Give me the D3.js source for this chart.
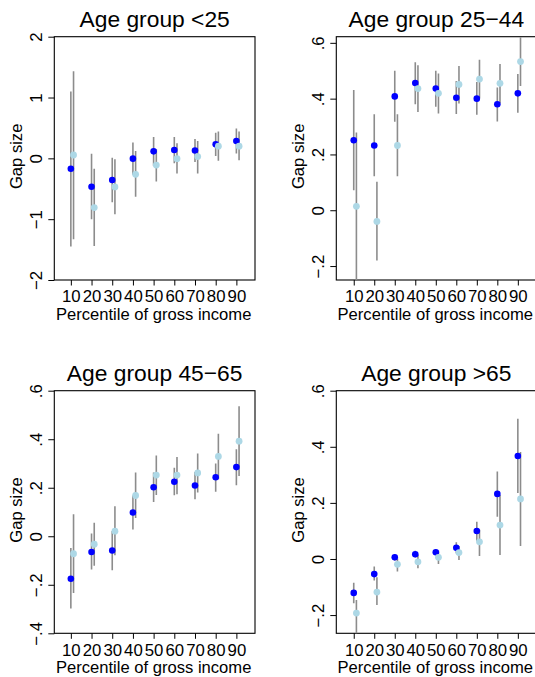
<!DOCTYPE html>
<html><head><meta charset="utf-8">
<script src="https://cdn.jsdelivr.net/npm/d3@7"></script>
<style>
body{margin:0;background:#fff}
svg{display:block}
text{font-family:"Liberation Sans",Arial,Helvetica,sans-serif;fill:#000}
</style>
</head><body>
<svg id="chart" width="535" height="677"></svg>
<script>
// ---- data ----
const percentiles = [10, 20, 30, 40, 50, 60, 70, 80, 90];
const panelTitles = ["Age group <25", "Age group 25\u221244", "Age group 45\u221265", "Age group >65"];
const xTickValues = [10, 20, 30, 40, 50, 60, 70, 80, 90];
const yTicks_lt25 = [-2, -1, 0, 1, 2];
const yTicks_25_44 = [-0.2, 0, 0.2, 0.4, 0.6];
const yTicks_45_65 = [-0.4, -0.2, 0, 0.2, 0.4, 0.6];
const yTicks_gt65 = [-0.2, 0, 0.2, 0.4, 0.6];
const xTitle = "Percentile of gross income";
const yTitle = "Gap size";

// Age <25
const blueEst_lt25  = [-0.17, -0.466, -0.357, -0.005, 0.115, 0.137, 0.13, 0.23, 0.285];
const blueLo_lt25   = [-1.45, -1.0, -0.72, -0.27, -0.12, -0.08, -0.06, 0.04, 0.08];
const blueHi_lt25   = [1.1, 0.077, 0.01, 0.26, 0.35, 0.35, 0.32, 0.42, 0.49];
const lightEst_lt25 = [0.055, -0.81, -0.47, -0.263, -0.11, -0.005, 0.03, 0.2, 0.2];
const lightLo_lt25  = [-1.33, -1.44, -0.92, -0.63, -0.38, -0.25, -0.25, -0.04, -0.03];
const lightHi_lt25  = [1.43, -0.17, -0.016, 0.12, 0.15, 0.25, 0.285, 0.44, 0.44];

// Age 25-44
const blueEst_25_44  = [0.251, 0.232, 0.408, 0.456, 0.436, 0.403, 0.4, 0.38, 0.419];
const blueLo_25_44   = [0.072, 0.122, 0.317, 0.38, 0.371, 0.345, 0.342, 0.318, 0.349];
const blueHi_25_44   = [0.431, 0.344, 0.5, 0.53, 0.5, 0.463, 0.46, 0.44, 0.488];
const lightEst_25_44 = [0.014, -0.04, 0.232, 0.436, 0.419, 0.451, 0.47, 0.455, 0.533];
const lightLo_25_44  = [-0.26, -0.18, 0.122, 0.352, 0.347, 0.383, 0.401, 0.383, 0.445];
const lightHi_25_44  = [0.279, 0.102, 0.344, 0.52, 0.49, 0.517, 0.539, 0.524, 0.62];

// Age 45-65
const blueEst_45_65  = [-0.175, -0.065, -0.059, 0.098, 0.202, 0.225, 0.209, 0.243, 0.285];
const blueLo_45_65   = [-0.298, -0.137, -0.14, 0.028, 0.141, 0.169, 0.153, 0.183, 0.21];
const blueHi_45_65   = [-0.048, 0.011, 0.022, 0.168, 0.263, 0.282, 0.265, 0.3, 0.359];
const lightEst_45_65 = [-0.072, -0.033, 0.021, 0.168, 0.252, 0.252, 0.261, 0.329, 0.392];
const lightLo_45_65  = [-0.234, -0.122, -0.078, 0.075, 0.17, 0.173, 0.18, 0.235, 0.248];
const lightHi_45_65  = [0.091, 0.056, 0.124, 0.263, 0.333, 0.327, 0.341, 0.423, 0.536];

// Age >65
const blueEst_gt65  = [-0.121, -0.054, 0.006, 0.017, 0.024, 0.04, 0.1, 0.232, 0.367];
const blueLo_gt65   = [-0.158, -0.077, -0.006, 0.005, 0.012, 0.02, 0.065, 0.151, 0.235];
const blueHi_gt65   = [-0.085, -0.027, 0.018, 0.029, 0.035, 0.06, 0.133, 0.312, 0.5];
const lightEst_gt65 = [-0.193, -0.118, -0.019, -0.01, 0.006, 0.023, 0.061, 0.121, 0.214];
const lightLo_gt65  = [-0.27, -0.164, -0.045, -0.033, -0.018, -0.004, 0.011, 0.014, 0.046];
const lightHi_gt65  = [-0.146, -0.065, 0.002, 0.014, 0.03, 0.046, 0.104, 0.228, 0.381];

// ---- layout ----
const panels = [
  {title: panelTitles[0], left: 54.3, right: 255, top: 36.7, bottom: 280, xDom: [2, 99], yDom: [-2, 2], yTicks: yTicks_lt25,
   bE: blueEst_lt25, bL: blueLo_lt25, bH: blueHi_lt25, lE: lightEst_lt25, lL: lightLo_lt25, lH: lightHi_lt25},
  {title: panelTitles[1], left: 336.3, right: 536.3, top: 36.7, bottom: 280, xDom: [1.5, 99], yDom: [-0.25, 0.622], yTicks: yTicks_25_44,
   bE: blueEst_25_44, bL: blueLo_25_44, bH: blueHi_25_44, lE: lightEst_25_44, lL: lightLo_25_44, lH: lightHi_25_44},
  {title: panelTitles[2], left: 54.3, right: 255, top: 390.7, bottom: 633.3, xDom: [2, 99], yDom: [-0.4, 0.6], yTicks: yTicks_45_65,
   bE: blueEst_45_65, bL: blueLo_45_65, bH: blueHi_45_65, lE: lightEst_45_65, lL: lightLo_45_65, lH: lightHi_45_65},
  {title: panelTitles[3], left: 336.3, right: 536.3, top: 390.7, bottom: 633.3, xDom: [1.5, 99], yDom: [-0.265, 0.6], yTicks: yTicks_gt65,
   bE: blueEst_gt65, bL: blueLo_gt65, bH: blueHi_gt65, lE: lightEst_gt65, lL: lightLo_gt65, lH: lightHi_gt65}
];

const BLUE = "#0000ff", LIGHT = "#add8e6", CI = "#8c8c8c";
const LIGHT_OFFSET = 1.3;
const FONT = '"Liberation Sans",Arial,Helvetica,sans-serif';

function fmt(v) {
  if (Math.abs(v) < 1e-9) return "0";
  let s = String(+v.toFixed(2));
  s = s.replace(/^(-?)0\./, "$1.");
  return s.replace("-", "\u2212");
}

const svg = d3.select("#chart");

panels.forEach((p, i) => {
  const x = d3.scaleLinear().domain(p.xDom).range([p.left, p.right]);
  const y = d3.scaleLinear().domain(p.yDom).range([p.bottom, p.top]);
  const g = svg.append("g");

  const clipId = "clip" + i;
  svg.append("clipPath").attr("id", clipId).append("rect")
    .attr("x", p.left).attr("y", p.top).attr("width", p.right - p.left).attr("height", p.bottom - p.top);

  // title
  g.append("text").attr("x", (p.left + p.right) / 2).attr("y", p.top - 9.5)
    .attr("text-anchor", "middle").style("font-size", "22.8px").text(p.title);

  // x axis
  const xa = g.append("g").attr("transform", `translate(0,${p.bottom})`)
    .call(d3.axisBottom(x).tickValues(xTickValues).tickFormat(d3.format("d")).tickSize(5.5).tickSizeOuter(0));
  xa.select(".domain").remove();
  xa.selectAll("line").attr("stroke", "#000");
  xa.selectAll("text").attr("y", 22.3).attr("dy", null).style("font-size", "16.8px").style("font-family", FONT);

  // y axis
  const ya = g.append("g").attr("transform", `translate(${p.left},0)`)
    .call(d3.axisLeft(y).tickValues(p.yTicks).tickFormat(fmt).tickSize(6).tickSizeOuter(0));
  ya.select(".domain").remove();
  ya.selectAll("line").attr("stroke", "#000");
  ya.selectAll("text")
    .attr("x", 0).attr("y", -12.5).attr("dy", null)
    .attr("transform", "rotate(-90)")
    .attr("text-anchor", "middle")
    .style("font-size", "16.8px").style("font-family", FONT);

  // frame
  g.append("rect").attr("x", p.left).attr("y", p.top)
    .attr("width", p.right - p.left).attr("height", p.bottom - p.top)
    .attr("fill", "none").attr("stroke", "#000").attr("stroke-width", 1.1);

  // axis titles
  g.append("text").attr("x", (p.left + p.right) / 2 - 1).attr("y", p.bottom + 39.5)
    .attr("text-anchor", "middle").style("font-size", "16.6px").text(xTitle);
  g.append("text")
    .attr("transform", `translate(${p.left - 32},${(p.top + p.bottom) / 2 - 2}) rotate(-90)`)
    .attr("text-anchor", "middle").style("font-size", "16.6px").text(yTitle);

  const plot = g.append("g").attr("clip-path", `url(#${clipId})`);
  const rows = percentiles.map((pc, k) => ({pc, bE: p.bE[k], bL: p.bL[k], bH: p.bH[k], lE: p.lE[k], lL: p.lL[k], lH: p.lH[k]}));

  // CIs
  plot.selectAll(".ciB").data(rows).join("line")
    .attr("x1", d => x(d.pc)).attr("x2", d => x(d.pc))
    .attr("y1", d => y(d.bL)).attr("y2", d => y(d.bH))
    .attr("stroke", CI).attr("stroke-width", 1.6);
  plot.selectAll(".ciL").data(rows).join("line")
    .attr("x1", d => x(d.pc + LIGHT_OFFSET)).attr("x2", d => x(d.pc + LIGHT_OFFSET))
    .attr("y1", d => y(d.lL)).attr("y2", d => y(d.lH))
    .attr("stroke", CI).attr("stroke-width", 1.6);

  // points
  plot.selectAll(".ptB").data(rows).join("circle")
    .attr("cx", d => x(d.pc)).attr("cy", d => y(d.bE)).attr("r", 3.3).attr("fill", BLUE);
  plot.selectAll(".ptL").data(rows).join("circle")
    .attr("cx", d => x(d.pc + LIGHT_OFFSET)).attr("cy", d => y(d.lE)).attr("r", 3.4).attr("fill", LIGHT);
});
</script>
</body></html>
